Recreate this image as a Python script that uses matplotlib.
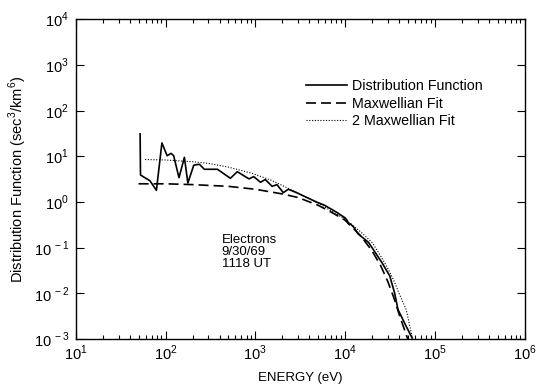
import matplotlib
matplotlib.use("Agg")
import matplotlib.pyplot as plt
from matplotlib.ticker import LogLocator, NullFormatter, FixedLocator

plt.rcParams['font.family'] = ['Liberation Sans', 'DejaVu Sans']
plt.rcParams['mathtext.fontset'] = 'custom'
plt.rcParams['mathtext.rm'] = 'Liberation Sans'

# measured distribution function (energy eV, f)
dist_e = [52, 52.5, 67, 79, 91, 104, 115, 123, 141, 162, 177, 206, 238, 270,
          378, 527, 630, 850, 960, 1140, 1290, 1540, 1740, 2050, 2330, 2880,
          4800, 5900, 8000, 10000, 10500, 11000, 11500, 12500, 14000, 18300,
          25600, 31500, 35600, 38900, 48000, 56000]
dist_f = [31, 3.9, 2.9, 1.8, 19.6, 10.3, 11.6, 10.3, 3.4, 9.5, 2.6, 6.4, 6.7, 5.2,
          5.2, 3.3, 4.6, 3.2, 3.6, 2.7, 3.1, 2.2, 2.4, 1.6, 1.9, 1.6,
          1.0, 0.85, 0.6, 0.45, 0.40, 0.33, 0.33, 0.28, 0.20, 0.13,
          0.048, 0.024, 0.0103, 0.0044, 0.0019, 0.00105]

# single Maxwellian fit
max_e = [50, 100, 200, 500, 1000, 2000, 3000, 5000, 7000, 10000, 15000,
         20000, 25000, 30000, 35000, 40000, 45000, 50000]
max_f = [2.5, 2.5, 2.4, 2.2, 1.9, 1.5, 1.25, 0.85, 0.6, 0.4, 0.18,
         0.085, 0.04, 0.018, 0.008, 0.0035, 0.0018, 0.001]

# two-Maxwellian fit
two_e = [59, 100, 200, 300, 500, 900, 1500, 2200, 5000, 10000, 15000,
         20000, 25000, 30000, 35000, 40000, 48000, 56000]
two_f = [8.5, 8.3, 7.6, 7.0, 5.8, 4.3, 3.0, 2.1, 0.95, 0.42, 0.22,
         0.13, 0.065, 0.035, 0.019, 0.01, 0.0044, 0.0011]

fig = plt.figure(figsize=(5.38, 3.92), dpi=100)
ax = fig.add_axes([0.141, 0.135, 0.834, 0.816])

ax.plot(dist_e, dist_f, color='black', lw=1.2, label='Distribution Function')
ax.plot(max_e, max_f, color='black', lw=1.2, ls=(0, (6, 3)), label='Maxwellian Fit')
ax.plot(two_e, two_f, color='black', lw=0.8, ls=(0, (1, 1.5)), label='2 Maxwellian Fit')

ax.set_xscale('log')
ax.set_yscale('log')
ax.set_xlim(10, 1e6)
ax.set_ylim(1e-3, 1e4)

xt = [1e1, 1e2, 1e3, 1e4, 1e5, 1e6]
ax.xaxis.set_major_locator(FixedLocator(xt))
ax.set_xticklabels(['10$^{1}$', '10$^{2}$', '10$^{3}$', '10$^{4}$', '10$^{5}$', '10$^{6}$'])
ax.xaxis.set_minor_locator(LogLocator(base=10, subs=range(2, 10)))
ax.xaxis.set_minor_formatter(NullFormatter())

yt = [1e-3, 1e-2, 1e-1, 1e0, 1e1, 1e2, 1e3, 1e4]
ax.yaxis.set_major_locator(FixedLocator(yt))
ax.set_yticklabels(['10 $^{-\\,3}$', '10 $^{-\\,2}$', '10 $^{-\\,1}$', '10$^{0}$',
                    '10$^{1}$', '10$^{2}$', '10$^{3}$', '10$^{4}$'])
ax.yaxis.set_minor_locator(FixedLocator([]))

ax.tick_params(which='major', direction='in', length=6, width=0.8,
               top=True, right=True, labelsize=10.5, pad=5)
ax.tick_params(axis='x', which='major', pad=3)
ax.tick_params(which='minor', direction='in', length=3, width=0.8,
               top=True, right=True)
for s in ax.spines.values():
    s.set_linewidth(1.0)

ax.set_xlabel('ENERGY (eV)', fontsize=9.5, labelpad=7)
ax.set_ylabel('Distribution Function (sec$^{3}$/km$^{6}$)', fontsize=10.5, labelpad=3)

ax.legend(loc='upper left', bbox_to_anchor=(0.497, 0.835), frameon=False,
          fontsize=10.3, handlelength=2.9, handletextpad=0.3, labelspacing=0.25,
          borderpad=0)

ax.text(0.325, 0.33, 'Electrons\n9/30/69\n1118 UT', transform=ax.transAxes,
        fontsize=9.5, va='top', ha='left', linespacing=1.0)

fig.savefig('out.png', dpi=100)
